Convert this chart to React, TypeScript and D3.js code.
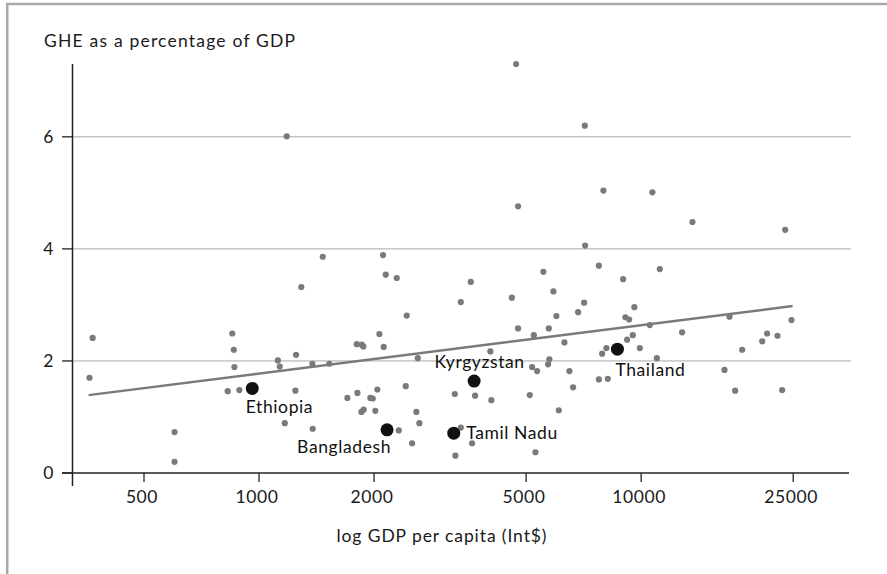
import React from "react";
import * as d3 from "d3";

// GDP per capita (Int$) and GHE (% of GDP) for the background countries
const gdpPerCapita = [
  360, 367, 601, 601, 828, 851, 859, 862, 888, 1120, 1133, 1168, 1182, 1245, 1250, 1290, 1379, 1382, 1468, 1527,
  1703, 1802, 1809, 1853, 1857, 1875, 1879, 1956, 1984, 2015, 2040, 2065, 2111, 2120, 2146, 2293, 2321, 2421, 2435,
  2515, 2581, 2603, 2628, 3253, 3265, 3373, 3373, 3582, 3610, 3676, 4031, 4056, 4587, 4707, 4763, 4763, 5112, 5184,
  5237, 5289, 5342, 5548, 5708, 5732, 5752, 5893, 6000, 6088, 6298, 6490, 6636, 6839, 7091, 7120, 7134, 7750, 7750,
  7905, 7966, 8111, 8179, 8970, 9095, 9190, 9301, 9510, 9600, 9920, 10535, 10702, 10990, 11190, 12800, 13620, 16520,
  17030, 17620, 18380, 20740, 21360, 22740, 23390, 23820, 24740,
];
const ghePercent = [
  1.70, 2.41, 0.73, 0.20, 1.46, 2.49, 2.20, 1.89, 1.48, 2.01, 1.90, 0.89, 6.01, 1.47, 2.11, 3.32, 1.95, 0.79, 3.86, 1.95,
  1.34, 2.30, 1.43, 1.09, 2.29, 2.26, 1.13, 1.34, 1.33, 1.11, 1.49, 2.48, 3.89, 2.25, 3.54, 3.48, 0.76, 1.55, 2.81,
  0.53, 1.09, 2.05, 0.89, 1.41, 0.31, 3.05, 0.81, 3.41, 0.53, 1.38, 2.17, 1.30, 3.13, 7.30, 4.76, 2.58, 1.39, 1.89,
  2.46, 0.37, 1.82, 3.59, 1.94, 2.58, 2.03, 3.24, 2.80, 1.12, 2.33, 1.82, 1.53, 2.87, 3.04, 6.20, 4.06, 3.70, 1.67,
  2.13, 5.04, 2.23, 1.68, 3.46, 2.78, 2.38, 2.74, 2.46, 2.96, 2.23, 2.64, 5.01, 2.05, 3.64, 2.51, 4.48, 1.84,
  2.79, 1.47, 2.20, 2.35, 2.49, 2.45, 1.48, 4.34, 2.73,
];

// Highlighted countries
const highlightNames = ["Ethiopia", "Bangladesh", "Kyrgyzstan", "Tamil Nadu", "Thailand"];
const highlightGdp = [960, 2163, 3655, 3233, 8668];
const highlightGhe = [1.51, 0.77, 1.64, 0.71, 2.21];

// Fitted trend line end points
const trendGdp = [358, 24900];
const trendGhe = [1.39, 2.98];

const xTicks = [500, 1000, 2000, 5000, 10000, 25000];
const yTicks = [0, 2, 4, 6];

const FONT = "Lato, 'Open Sans', sans-serif";
const FS = 17.5;
const LS = 0.6;

export default function App() {
  const W = 887;
  const H = 574;
  const x = d3.scaleLog().domain([324, 35200]).range([72, 850]);
  const y = d3.scaleLinear().domain([0, 7.3]).range([473, 64]);

  const labelPos: Record<string, { dx: number; dy: number; anchor: string }> = {
    Ethiopia: { dx: -6.5, dy: 24.5, anchor: "start" },
    Bangladesh: { dx: 4, dy: 23.5, anchor: "end" },
    Kyrgyzstan: { dx: 5.5, dy: -13.5, anchor: "middle" },
    "Tamil Nadu": { dx: 12.5, dy: 6, anchor: "start" },
    Thailand: { dx: -2, dy: 27, anchor: "start" },
  };

  const trendLine = d3
    .line<number>()
    .x((_, i) => x(trendGdp[i]))
    .y((d) => y(d));

  return (
    <svg
      width={W}
      height={H}
      style={{ position: "absolute", left: 0, top: 0, background: "#fff" }}
      fontFamily={FONT}
    >
      {/* frame */}
      <rect x={7.2} y={4} width={900} height={600} fill="none" stroke="#a9a9a9" strokeWidth={2.5} />

      {/* title */}
      <text x={44} y={47} fontSize={FS} letterSpacing={1.2} fill="#1a1a1a">
        GHE as a percentage of GDP
      </text>

      {/* gridlines */}
      {yTicks
        .filter((t) => t > 0)
        .map((t) => (
          <line key={t} x1={72} x2={851} y1={y(t)} y2={y(t)} stroke="#a8a8a8" strokeWidth={1} />
        ))}

      {/* y axis */}
      <line x1={72.5} x2={72.5} y1={64} y2={486} stroke="#222" strokeWidth={1.5} />
      {yTicks.map((t) => (
        <g key={t}>
          <line x1={62} x2={72} y1={y(t)} y2={y(t)} stroke="#222" strokeWidth={1.3} />
          <text x={54} y={y(t) + 6} fontSize={FS} letterSpacing={LS} textAnchor="end" fill="#1a1a1a">
            {t}
          </text>
        </g>
      ))}

      {/* x axis */}
      <line x1={62} x2={849} y1={473} y2={473} stroke="#222" strokeWidth={1.5} />
      {xTicks.map((t) => (
        <g key={t}>
          <line x1={x(t)} x2={x(t)} y1={473} y2={482} stroke="#222" strokeWidth={1.3} />
          <text x={x(t) - 2} y={503} fontSize={FS} letterSpacing={LS} textAnchor="middle" fill="#1a1a1a">
            {t}
          </text>
        </g>
      ))}
      <text x={442} y={542} fontSize={FS} letterSpacing={0.9} textAnchor="middle" fill="#1a1a1a">
        log GDP per capita (Int$)
      </text>

      {/* points */}
      {gdpPerCapita.map((g, i) => (
        <circle key={i} cx={x(g)} cy={y(ghePercent[i])} r={3.1} fill="#7a7a7a" />
      ))}

      {/* trend */}
      <path d={trendLine(trendGhe) || ""} fill="none" stroke="#7a7a7a" strokeWidth={2.5} />

      {/* highlighted */}
      {highlightNames.map((n, i) => {
        const cx = x(highlightGdp[i]);
        const cy = y(highlightGhe[i]);
        const p = labelPos[n];
        return (
          <g key={n}>
            <circle cx={cx} cy={cy} r={6.5} fill="#111" />
            <text
              x={cx + p.dx}
              y={cy + p.dy}
              fontSize={FS}
              letterSpacing={LS}
              textAnchor={p.anchor}
              fill="#111"
            >
              {n}
            </text>
          </g>
        );
      })}
    </svg>
  );
}
